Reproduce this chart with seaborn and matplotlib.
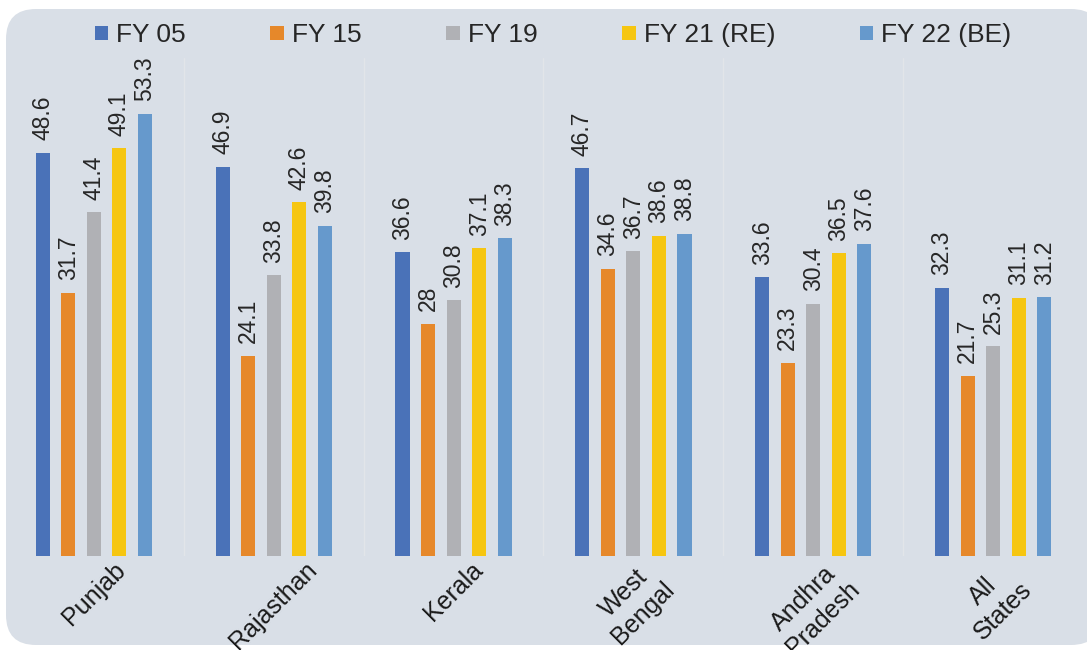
import numpy as np
import pandas as pd
import matplotlib
matplotlib.use('Agg')
import matplotlib.pyplot as plt
import seaborn as sns
from matplotlib.patches import FancyBboxPatch

sns.set_theme(style='white')
plt.rcParams['font.family'] = ['Liberation Sans', 'DejaVu Sans']

# data
states = ['Punjab', 'Rajasthan', 'Kerala', 'West Bengal', 'Andhra Pradesh', 'All States']
tick_labels = ['Punjab', 'Rajasthan', 'Kerala', 'West\nBengal', 'Andhra\nPradesh', 'All\nStates']
years = ['FY 05', 'FY 15', 'FY 19', 'FY 21 (RE)', 'FY 22 (BE)']
fy05 = [48.6, 46.9, 36.6, 46.7, 33.6, 32.3]
fy15 = [31.7, 24.1, 28, 34.6, 23.3, 21.7]
fy19 = [41.4, 33.8, 30.8, 36.7, 30.4, 25.3]
fy21 = [49.1, 42.6, 37.1, 38.6, 36.5, 31.1]
fy22 = [53.3, 39.8, 38.3, 38.8, 37.6, 31.2]
colors = ['#4a72b8', '#e6882a', '#b0b1b5', '#f6c611', '#6699cc']

df = pd.DataFrame({
    'state': states * 5,
    'year': np.repeat(years, len(states)),
    'value': fy05 + fy15 + fy19 + fy21 + fy22,
})

fig = plt.figure(figsize=(10.87, 6.5), dpi=100)
fig.patch.set_facecolor('white')

# rounded light panel behind the chart
panel = FancyBboxPatch((0.06, 0.05), 10.95, 6.36,
                       boxstyle='round,pad=0,rounding_size=0.3',
                       transform=fig.dpi_scale_trans,
                       facecolor='#d9dfe7', edgecolor='none', zorder=-10)
fig.patches.append(panel)

ax = fig.add_axes([4 / 1087, (650 - 556) / 650, 1079 / 1087, (556 - 58) / 650])
ax.set_facecolor('none')

sns.barplot(data=df, x='state', y='value', hue='year', order=states, hue_order=years,
            palette=colors, saturation=1, width=0.71, gap=0.45, linewidth=0, ax=ax)

# value labels on top of bars
for c in ax.containers:
    ax.bar_label(c, fmt='{:g}', rotation=90, padding=9, fontsize=16.5, color='#262626')

# thin separators between groups
for k in range(len(states) - 1):
    ax.axvline(k + 0.5, color='#e2e5e9', lw=1, zorder=0)

ax.set_xlim(-0.5, 5.5)
ax.set_ylim(0, 60)
ax.set_yticks([])
ax.set_xlabel('')
ax.set_ylabel('')
ax.set_xticks(range(len(states)))
ax.set_xticklabels(tick_labels, rotation=45, ha='center', va='top', fontsize=18, color='#1a1a1a')
ax.tick_params(axis='x', length=0, pad=1)
for s in ax.spines.values():
    s.set_visible(False)

handles, labels = ax.get_legend_handles_labels()
ax.get_legend().remove()
fig.legend(handles, labels, ncol=5, loc='center', bbox_to_anchor=(553 / 1087, 1 - 35 / 650),
           frameon=False, fontsize=19, handlelength=0.52, handleheight=0.45,
           handletextpad=0.3, columnspacing=3.2, labelcolor='#262626')

fig.savefig('out.png', dpi=100)
